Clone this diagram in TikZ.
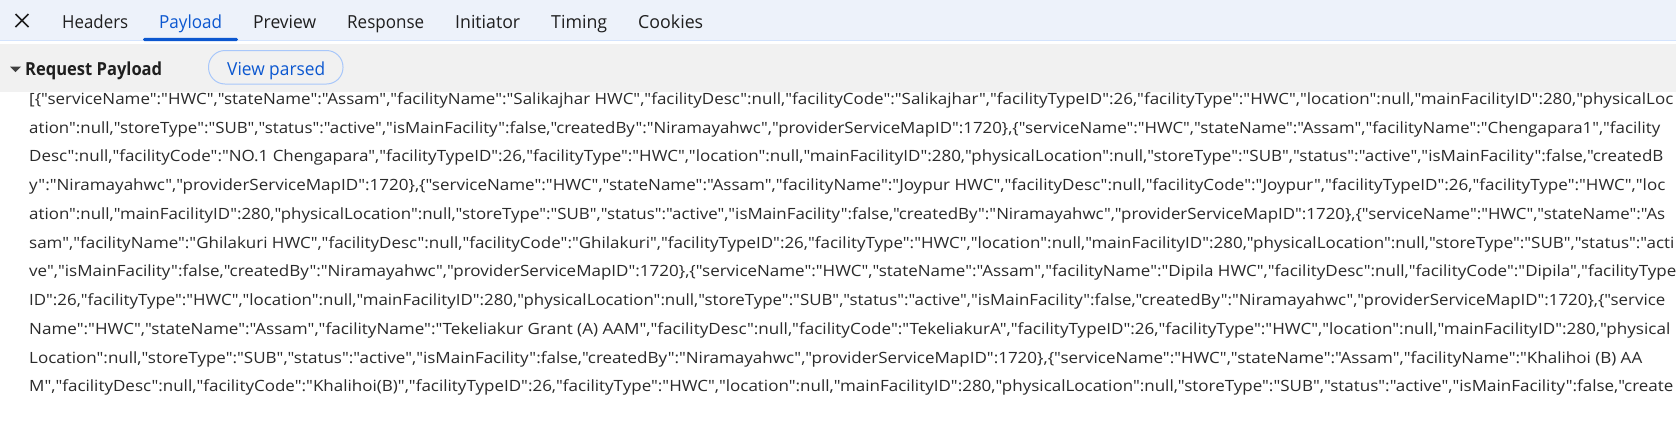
\documentclass[tikz,border=0pt]{standalone}
\usepackage{fontspec}
\newfontfamily\uif{Open Sans}
\usepackage{graphicx}
\definecolor{tabbg}{HTML}{EDF2FA}
\definecolor{tabline}{HTML}{D3E3FD}
\definecolor{rowbg}{HTML}{F1F1F1}
\definecolor{ink}{HTML}{1F1F1F}
\definecolor{txt}{HTML}{2A2A2A}
\definecolor{accent}{HTML}{0B57D0}
\definecolor{pill}{HTML}{A8C7FA}
\newcommand\fitw[2]{\resizebox{#1pt}{\height}{#2}}
\tikzset{
  tabtxt/.style={anchor=base west, inner sep=0, font=\uif\fontsize{18}{20}\selectfont, text=ink},
  jsonline/.style={anchor=base west, inner sep=0, font=\uif\fontsize{15.5}{18}\selectfont, text=txt},
}
\begin{document}
\begin{tikzpicture}[x=1pt,y=-1pt]
\useasboundingbox (0,0) rectangle (1676,421);
\clip (0,0) rectangle (1676,421);
\fill[white] (0,0) rectangle (1676,421);
% tab bar
\fill[tabbg] (0,0) rectangle (1676,40);
\fill[tabline] (0,40) rectangle (1676,41.2);
% close icon
\coordinate (xa) at (15.5,14);
\coordinate (xb) at (28.5,27);
\coordinate (xc) at (28.5,14);
\coordinate (xd) at (15.5,27);
\draw[ink, line width=1.7] (xa) -- (xb) (xc) -- (xd);
% tabs
\node[tabtxt] (headers) at (62,28) {\fitw{66}{Headers}};
\node[tabtxt, text=accent] (payload) at (159,28) {\fitw{63}{Payload}};
\node[tabtxt] (preview) at (253,28) {\fitw{63}{Preview}};
\node[tabtxt] (response) at (347,28) {\fitw{77}{Response}};
\node[tabtxt] (initiator) at (455,28) {\fitw{65}{Initiator}};
\node[tabtxt] (timing) at (551,28) {\fitw{56}{Timing}};
\node[tabtxt] (cookies) at (638,28) {\fitw{65}{Cookies}};
\fill[accent, rounded corners=1.5] (143,41) -- (143,37.8) -- (238,37.8) -- (238,41) -- cycle;
% section header row
\fill[rowbg] (0,44) rectangle (1676,91.5);
\fill[ink!85] (10,66.5) -- (21,66.5) -- (15.5,72) -- cycle;
\node[anchor=base west, inner sep=0, font=\uif\bfseries\fontsize{18}{20}\selectfont, text=ink] (reqpay) at (25,75) {\fitw{137}{Request Payload}};
\draw[pill, line width=1, rounded corners=16.5] (208.5,50.5) rectangle (343,84);
\node[anchor=base west, inner sep=0, font=\uif\fontsize{18}{20}\selectfont, text=accent] (viewparsed) at (227,75) {\fitw{98}{View parsed}};
% payload text
\node[jsonline] (l1) at (29,104.3) {\fitw{1644}{[\{"serviceName":"HWC","stateName":"Assam","facilityName":"Salikajhar HWC","facilityDesc":null,"facilityCode":"Salikajhar","facilityTypeID":26,"facilityType":"HWC","location":null,"mainFacilityID":280,"physicalLoc}};
\node[jsonline] (l2) at (29,133.05) {\fitw{1631}{ation":null,"storeType":"SUB","status":"active","isMainFacility":false,"createdBy":"Niramayahwc","providerServiceMapID":1720\},\{"serviceName":"HWC","stateName":"Assam","facilityName":"Chengapara1","facility}};
\node[jsonline] (l3) at (29,161.8) {\fitw{1634}{Desc":null,"facilityCode":"NO.1 Chengapara","facilityTypeID":26,"facilityType":"HWC","location":null,"mainFacilityID":280,"physicalLocation":null,"storeType":"SUB","status":"active","isMainFacility":false,"createdB}};
\node[jsonline] (l4) at (29,190.55) {\fitw{1636}{y":"Niramayahwc","providerServiceMapID":1720\},\{"serviceName":"HWC","stateName":"Assam","facilityName":"Joypur HWC","facilityDesc":null,"facilityCode":"Joypur","facilityTypeID":26,"facilityType":"HWC","loc}};
\node[jsonline] (l5) at (29,219.3) {\fitw{1636}{ation":null,"mainFacilityID":280,"physicalLocation":null,"storeType":"SUB","status":"active","isMainFacility":false,"createdBy":"Niramayahwc","providerServiceMapID":1720\},\{"serviceName":"HWC","stateName":"As}};
\node[jsonline] (l6) at (29,248.05) {\fitw{1645}{sam","facilityName":"Ghilakuri HWC","facilityDesc":null,"facilityCode":"Ghilakuri","facilityTypeID":26,"facilityType":"HWC","location":null,"mainFacilityID":280,"physicalLocation":null,"storeType":"SUB","status":"acti}};
\node[jsonline] (l7) at (29,276.8) {\fitw{1647}{ve","isMainFacility":false,"createdBy":"Niramayahwc","providerServiceMapID":1720\},\{"serviceName":"HWC","stateName":"Assam","facilityName":"Dipila HWC","facilityDesc":null,"facilityCode":"Dipila","facilityType}};
\node[jsonline] (l8) at (29,305.55) {\fitw{1636}{ID":26,"facilityType":"HWC","location":null,"mainFacilityID":280,"physicalLocation":null,"storeType":"SUB","status":"active","isMainFacility":false,"createdBy":"Niramayahwc","providerServiceMapID":1720\},\{"service}};
\node[jsonline] (l9) at (29,334.3) {\fitw{1641}{Name":"HWC","stateName":"Assam","facilityName":"Tekeliakur Grant (A) AAM","facilityDesc":null,"facilityCode":"TekeliakurA","facilityTypeID":26,"facilityType":"HWC","location":null,"mainFacilityID":280,"physical}};
\node[jsonline] (l10) at (29,363.05) {\fitw{1613}{Location":null,"storeType":"SUB","status":"active","isMainFacility":false,"createdBy":"Niramayahwc","providerServiceMapID":1720\},\{"serviceName":"HWC","stateName":"Assam","facilityName":"Khalihoi (B) AA}};
\node[jsonline] (l11) at (29,391.8) {\fitw{1644}{M","facilityDesc":null,"facilityCode":"Khalihoi(B)","facilityTypeID":26,"facilityType":"HWC","location":null,"mainFacilityID":280,"physicalLocation":null,"storeType":"SUB","status":"active","isMainFacility":false,"create}};
\end{tikzpicture}
\end{document}
